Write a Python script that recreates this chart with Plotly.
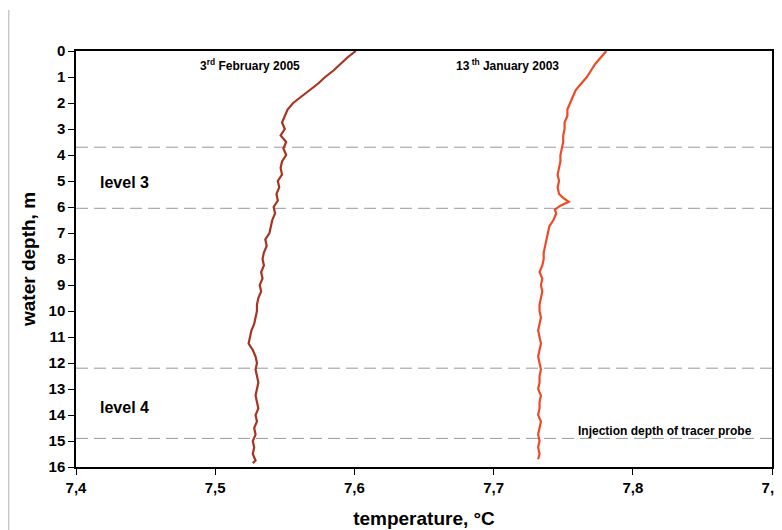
import plotly.graph_objects as go

# depth (m) for each profile
depth_2005 = [0.0, 0.25, 0.5, 0.75, 1.0, 1.25, 1.5, 1.75, 2.0, 2.25, 2.5, 2.75, 3.0, 3.25, 3.5, 3.75,
              4.0, 4.25, 4.5, 4.75, 5.0, 5.25, 5.5, 5.75, 6.0, 6.25, 6.5, 6.75, 7.0, 7.25, 7.5, 7.75,
              8.0, 8.25, 8.5, 8.75, 9.0, 9.25, 9.5, 9.75, 10.0, 10.25, 10.5, 10.75, 11.0, 11.25, 11.5, 11.75,
              12.0, 12.25, 12.5, 12.75, 13.0, 13.25, 13.5, 13.75, 14.0, 14.25, 14.5, 14.75, 15.0, 15.25, 15.5, 15.75, 15.85]
temp_2005 = [7.601, 7.595, 7.590, 7.585, 7.579, 7.574, 7.568, 7.562, 7.556, 7.552, 7.550, 7.548, 7.550, 7.547, 7.551, 7.549,
             7.551, 7.548, 7.547, 7.548, 7.545, 7.546, 7.544, 7.545, 7.542, 7.543, 7.541, 7.540, 7.539, 7.536, 7.537, 7.535,
             7.534, 7.535, 7.533, 7.534, 7.532, 7.533, 7.531, 7.530, 7.530, 7.529, 7.528, 7.526, 7.525, 7.524, 7.527, 7.529,
             7.530, 7.529, 7.530, 7.531, 7.530, 7.529, 7.530, 7.531, 7.529, 7.530, 7.528, 7.529, 7.527, 7.528, 7.527, 7.529, 7.527]

depth_2003 = [0.0, 0.25, 0.5, 0.75, 1.0, 1.25, 1.5, 1.75, 2.0, 2.25, 2.5, 2.75, 3.0, 3.25, 3.5, 3.75,
              4.0, 4.25, 4.5, 4.75, 5.0, 5.25, 5.5, 5.65, 5.8, 5.95, 6.1, 6.25, 6.5, 6.75, 7.0, 7.25, 7.5, 7.75,
              8.0, 8.25, 8.5, 8.75, 9.0, 9.25, 9.5, 9.75, 10.0, 10.25, 10.5, 10.75, 11.0, 11.25, 11.5, 11.75,
              12.0, 12.25, 12.5, 12.75, 13.0, 13.25, 13.5, 13.75, 14.0, 14.25, 14.5, 14.75, 15.0, 15.25, 15.5, 15.7]
temp_2003 = [7.781, 7.777, 7.773, 7.770, 7.767, 7.763, 7.759, 7.757, 7.755, 7.753, 7.753, 7.751, 7.751, 7.750, 7.750, 7.749,
             7.748, 7.748, 7.747, 7.746, 7.747, 7.746, 7.747, 7.750, 7.754, 7.748, 7.744, 7.745, 7.743, 7.740, 7.739, 7.738, 7.737, 7.736,
             7.736, 7.735, 7.733, 7.735, 7.734, 7.735, 7.734, 7.733, 7.733, 7.734, 7.733, 7.732, 7.733, 7.734, 7.733, 7.732,
             7.733, 7.734, 7.733, 7.733, 7.732, 7.734, 7.733, 7.733, 7.732, 7.734, 7.733, 7.732, 7.733, 7.732, 7.733, 7.732]

level_depths = [3.7, 6.05, 12.2, 14.9]
x_ticks = [7.4, 7.5, 7.6, 7.7, 7.8, 7.9]
y_ticks = list(range(0, 17))

FONT = "Liberation Sans, Arial, sans-serif"

fig = go.Figure()
fig.add_trace(go.Scatter(x=temp_2005, y=depth_2005, mode="lines",
                         line=dict(color="#A8341F", width=2.2), showlegend=False))
fig.add_trace(go.Scatter(x=temp_2003, y=depth_2003, mode="lines",
                         line=dict(color="#EE4A26", width=2.2), showlegend=False))

for d in level_depths:
    fig.add_shape(type="line", xref="paper", yref="y", x0=0, x1=1, y0=d, y1=d,
                  line=dict(color="#999999", width=1, dash="12px,6px"), layer="below")

# left frame line of the page
fig.add_shape(type="line", xref="paper", yref="paper", x0=-0.0966, x1=-0.0966, y0=-0.16, y1=1.0986,
              line=dict(color="#BBBBBB", width=1.2))

ann_font = dict(family=FONT, size=12, color="black")
fig.add_annotation(x=7.525, y=0.55, text="<b>3<sup>rd</sup> February 2005</b>", showarrow=False, font=ann_font)
fig.add_annotation(x=7.710, y=0.55, text="<b>13<sup> th</sup> January 2003</b>", showarrow=False, font=ann_font)
fig.add_annotation(x=7.823, y=14.6, text="<b>Injection depth of tracer probe</b>", showarrow=False, font=ann_font)
lvl_font = dict(family=FONT, size=16, color="black")
fig.add_annotation(x=7.4345, y=5.05, text="<b>level 3</b>", showarrow=False, font=lvl_font)
fig.add_annotation(x=7.4345, y=13.7, text="<b>level 4</b>", showarrow=False, font=lvl_font)

fig.update_layout(
    width=774, height=522,
    margin=dict(l=68, r=10, t=43, b=63),
    paper_bgcolor="white", plot_bgcolor="white",
    separators=", ",
    font=dict(family=FONT, color="black"),
    xaxis=dict(range=[7.4, 7.9], tickvals=x_ticks, tickformat=".1f", automargin=False,
               ticklabeloverflow="allow",
               showgrid=False, zeroline=False,
               showline=True, linecolor="black", linewidth=1.5, mirror=True,
               ticks="outside", ticklen=6, tickcolor="black",
               tickfont=dict(family=FONT, size=15, color="black", weight="bold"),
               title=dict(text="<b>temperature, °C</b>", font=dict(family=FONT, size=19), standoff=17)),
    yaxis=dict(range=[16, 0], tickvals=y_ticks, automargin=False,
               ticklabeloverflow="allow",
               showgrid=False, zeroline=False,
               showline=True, linecolor="black", linewidth=1.5, mirror=True,
               ticks="outside", ticklen=6, tickcolor="black",
               tickfont=dict(family=FONT, size=15, color="black", weight="bold"),
               title=dict(text="<b>water depth, m</b>", font=dict(family=FONT, size=19), standoff=8)),
)

fig.write_html("out.html")
